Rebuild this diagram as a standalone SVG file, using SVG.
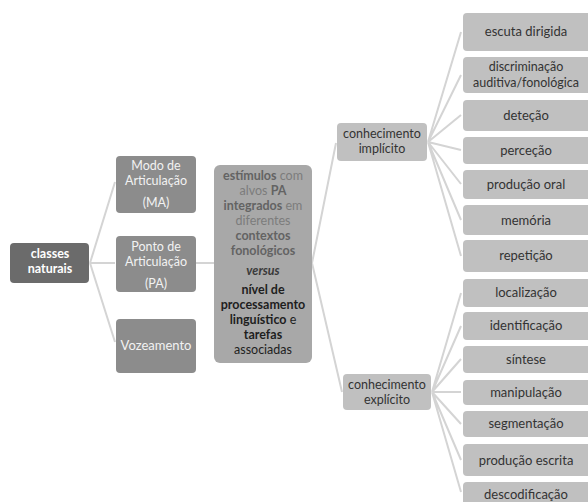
<svg xmlns="http://www.w3.org/2000/svg" width="588" height="502" viewBox="0 0 588 502">
<style>
text{font-family:Lato,"Open Sans","Liberation Sans",sans-serif;font-size:13px;text-anchor:middle}
.s text{font-size:12.5px}
.l{stroke:#d4d4d4;stroke-width:2;fill:none}
.r{fill:#c0c0c0}
.rt{fill:#333}
.m{fill:#8c8c8c}
.mt{fill:#f2f2f2}
.b{font-weight:bold}
</style>
<rect width="588" height="502" fill="#fff"/>
<g id="connectors">
<path class="l" d="M90,263 L115,182 M90,263 L115,263 M90,263 L115,342"/>
<path class="l" d="M196,263 L214,263"/>
<path class="l" d="M312,263 L336,143 M312,263 L342,392"/>
<path class="l" d="M428,142 L461,32 M428,142 L461,75 M428,142 L461,115 M428,142 L461,150 M428,142 L461,184 M428,142 L461,220 M428,142 L461,256"/>
<path class="l" d="M432,392 L461,293 M432,392 L461,326 M432,392 L461,359 M432,392 L461,392 M432,392 L461,424 M432,392 L461,460 M432,392 L461,492"/>
</g>
<g id="classes" class="s"><rect x="10" y="243" width="79" height="40" rx="4" fill="#6b6b6b"/><text x="50" y="258" class="b" fill="#fff">classes</text><text x="50" y="273" class="b" fill="#fff">naturais</text></g>
<g id="modo" class="s"><rect class="m" x="116" y="156" width="80" height="57" rx="4"/><text class="mt" x="156" y="170">Modo de</text><text class="mt" x="156" y="185">Articulação</text><text class="mt" x="156" y="207">(MA)</text></g>
<g id="ponto" class="s"><rect class="m" x="116" y="236" width="80" height="56" rx="4"/><text class="mt" x="156" y="251">Ponto de</text><text class="mt" x="156" y="266">Articulação</text><text class="mt" x="156" y="288">(PA)</text></g>
<g id="vozeamento"><rect class="m" x="116" y="319" width="80" height="54" rx="4"/><text class="mt" x="156" y="350">Vozeamento</text></g>
<g id="centro" class="s"><rect x="214" y="165" width="98" height="198" rx="6" fill="#a8a8a8"/>
<text x="263" y="180" fill="#7c7c7c"><tspan class="b" fill="#636363">estímulos</tspan> com</text>
<text x="263" y="195" fill="#7c7c7c">alvos <tspan class="b" fill="#636363">PA</tspan></text>
<text x="263" y="210" fill="#7c7c7c"><tspan class="b" fill="#636363">integrados</tspan> em</text>
<text x="263" y="225" fill="#7c7c7c">diferentes</text>
<text x="263" y="240" class="b" fill="#636363">contextos</text>
<text x="263" y="255" class="b" fill="#636363">fonológicos</text>
<text x="263" y="275" class="b" fill="#3a3a3a" font-style="italic">versus</text>
<text x="263" y="294" class="b" fill="#1e1e1e">nível de</text>
<text x="263" y="309" class="b" fill="#1e1e1e">processamento</text>
<text x="263" y="324" fill="#1e1e1e"><tspan class="b">linguístico</tspan> e</text>
<text x="263" y="339" class="b" fill="#1e1e1e">tarefas</text>
<text x="263" y="354" fill="#1e1e1e">associadas</text>
</g>
<g id="implicito" class="s"><rect class="r" x="337" y="123" width="90" height="38" rx="4"/><text class="rt" x="382" y="138">conhecimento</text><text class="rt" x="382" y="153">implícito</text></g>
<g id="explicito" class="s"><rect class="r" x="343" y="374" width="88" height="36" rx="4"/><text class="rt" x="387" y="389">conhecimento</text><text class="rt" x="387" y="404">explícito</text></g>
<g id="escuta"><rect class="r" x="463" y="13" width="130" height="38" rx="4"/><text class="rt" x="526" y="36">escuta dirigida</text></g>
<g id="discriminacao" class="s"><rect class="r" x="463" y="57" width="130" height="36" rx="4"/><text class="rt" x="526" y="71">discriminação</text><text class="rt" x="526" y="87">auditiva/fonológica</text></g>
<g id="detecao"><rect class="r" x="463" y="100" width="130" height="31" rx="4"/><text class="rt" x="526" y="120">deteção</text></g>
<g id="percecao"><rect class="r" x="463" y="137" width="130" height="27" rx="4"/><text class="rt" x="526" y="155">perceção</text></g>
<g id="producaooral"><rect class="r" x="463" y="170" width="130" height="29" rx="4"/><text class="rt" x="526" y="189">produção oral</text></g>
<g id="memoria"><rect class="r" x="463" y="205" width="130" height="30" rx="4"/><text class="rt" x="526" y="225">memória</text></g>
<g id="repeticao"><rect class="r" x="463" y="240" width="130" height="32" rx="4"/><text class="rt" x="526" y="260">repetição</text></g>
<g id="localizacao"><rect class="r" x="463" y="279" width="130" height="28" rx="4"/><text class="rt" x="526" y="297">localização</text></g>
<g id="identificacao"><rect class="r" x="463" y="312" width="130" height="28" rx="4"/><text class="rt" x="526" y="330">identificação</text></g>
<g id="sintese"><rect class="r" x="463" y="346" width="130" height="27" rx="4"/><text class="rt" x="526" y="364">síntese</text></g>
<g id="manipulacao"><rect class="r" x="463" y="380" width="130" height="25" rx="4"/><text class="rt" x="526" y="397">manipulação</text></g>
<g id="segmentacao"><rect class="r" x="463" y="411" width="130" height="26" rx="4"/><text class="rt" x="526" y="428">segmentação</text></g>
<g id="producaoescrita"><rect class="r" x="463" y="444" width="130" height="32" rx="4"/><text class="rt" x="526" y="465">produção escrita</text></g>
<g id="descodificacao"><rect class="r" x="463" y="482" width="130" height="30" rx="4"/><text class="rt" x="526" y="499">descodificação</text></g>
</svg>
